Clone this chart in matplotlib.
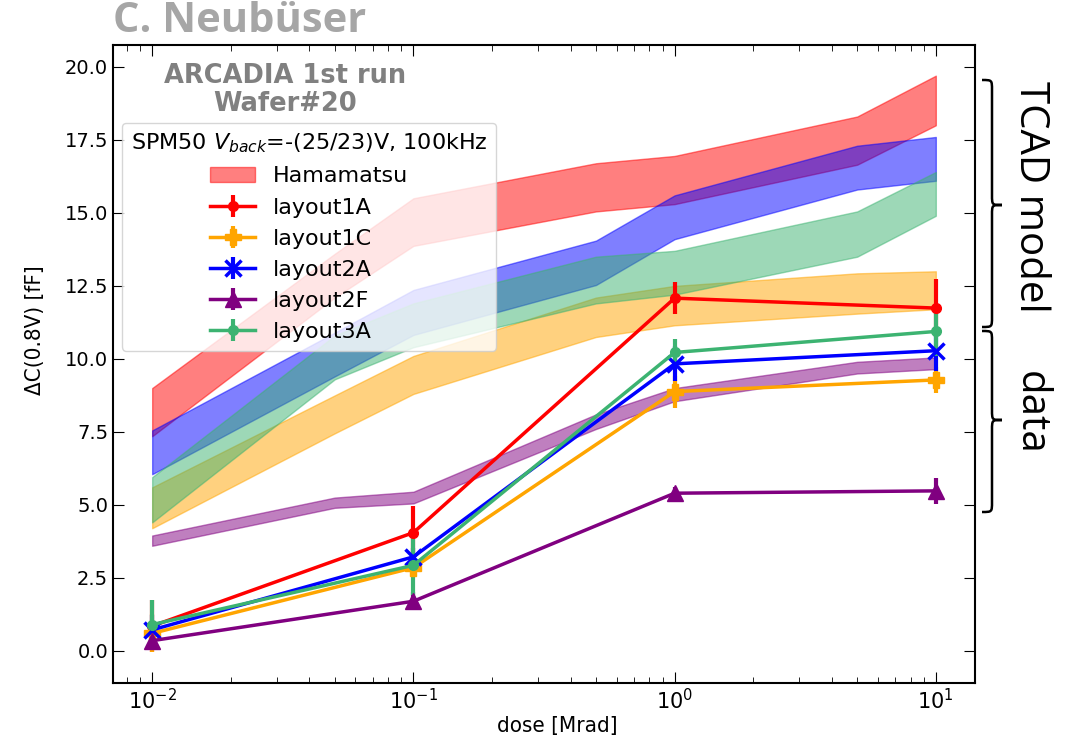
import numpy as np
import matplotlib
matplotlib.use("Agg")
import matplotlib.pyplot as plt
from matplotlib.path import Path
from matplotlib.patches import PathPatch

# TCAD simulation bands (upper / lower edge) vs. dose
dose_tcad = [0.01, 0.05, 0.1, 0.5, 1, 5, 10]
hama_hi = [9.0, 13.6, 15.5, 16.7, 16.95, 18.3, 19.7]
hama_lo = [7.35, 12.1, 13.87, 15.05, 15.3, 16.65, 18.0]
l2a_hi = [7.55, 10.9, 12.36, 14.05, 15.6, 17.3, 17.6]
l2a_lo = [6.05, 9.4, 10.82, 12.53, 14.1, 15.8, 16.1]
l3a_hi = [5.95, 10.8, 11.9, 13.5, 13.7, 15.05, 16.4]
l3a_lo = [4.4, 9.3, 10.4, 11.9, 12.2, 13.5, 14.9]
l1c_hi = [5.6, 8.75, 10.1, 12.1, 12.5, 12.93, 13.0]
l1c_lo = [4.2, 7.45, 8.8, 10.75, 11.15, 11.55, 11.7]
l2f_hi = [3.95, 5.25, 5.45, 8.1, 9.0, 9.9, 10.05]
l2f_lo = [3.6, 4.9, 5.05, 7.6, 8.55, 9.5, 9.65]

# measured points
dose_meas = [0.01, 0.1, 1, 10]
layout1A = [0.85, 4.05, 12.08, 11.74]
layout1A_err = [0.9, 0.9, 0.55, 1.0]
layout1C = [0.6, 2.85, 8.88, 9.28]
layout1C_err = [0.65, 0.2, 0.55, 0.45]
layout2A = [0.72, 3.22, 9.83, 10.28]
layout2A_err = [0.5, 0.3, 0.6, 0.7]
layout2F = [0.35, 1.7, 5.4, 5.48]
layout2F_err = [0.3, 0.3, 0.2, 0.45]
layout3A = [0.9, 2.93, 10.22, 10.94]
layout3A_err = [0.85, 1.0, 0.45, 0.85]

W, H = 1069, 744
fig = plt.figure(figsize=(W / 100, H / 100), dpi=100)
ax = fig.add_axes([113 / W, 1 - 683 / H, 862 / W, 638 / H])

ax.fill_between(dose_tcad, hama_lo, hama_hi, color="red", alpha=0.5, label="Hamamatsu")
ax.fill_between(dose_tcad, l1c_lo, l1c_hi, color="orange", alpha=0.5)
ax.fill_between(dose_tcad, l2a_lo, l2a_hi, color="blue", alpha=0.5)
ax.fill_between(dose_tcad, l2f_lo, l2f_hi, color="purple", alpha=0.5)
ax.fill_between(dose_tcad, l3a_lo, l3a_hi, color="mediumseagreen", alpha=0.5)

eb = dict(lw=2.5, elinewidth=3, capsize=0)
ax.errorbar(dose_meas, layout1A, yerr=layout1A_err, color="red", marker="o", ms=7, label="layout1A", **eb)
ax.errorbar(dose_meas, layout1C, yerr=layout1C_err, color="orange", marker="P", ms=11, label="layout1C", **eb)
ax.errorbar(dose_meas, layout2A, yerr=layout2A_err, color="blue", marker="x", ms=11, mew=2.5, label="layout2A", **eb)
ax.errorbar(dose_meas, layout2F, yerr=layout2F_err, color="purple", marker="^", ms=11, label="layout2F", **eb)
ax.errorbar(dose_meas, layout3A, yerr=layout3A_err, color="mediumseagreen", marker="o", ms=7, label="layout3A", **eb)

ax.set_xscale("log")
ax.set_ylim(-1.1, 20.75)
ax.set_yticks(np.arange(0, 20.1, 2.5))
ax.tick_params(which="both", direction="in", top=True, right=True, labelsize=14)
ax.tick_params(axis="x", labelsize=15)
ax.tick_params(which="major", length=8)
ax.tick_params(which="minor", length=4)
for s in ax.spines.values():
    s.set_linewidth(1.5)

ax.set_xlabel("dose [Mrad]", fontsize=16, fontstretch="condensed")
ax.set_ylabel("ΔC(0.8V) [fF]", fontsize=16, fontstretch="condensed")
ax.xaxis.set_label_coords(0.516, -0.052)
ax.yaxis.set_label_coords(-0.079, 0.553)

handles, labels = ax.get_legend_handles_labels()
order = [labels.index(n) for n in ["Hamamatsu", "layout1A", "layout1C", "layout2A", "layout2F", "layout3A"]]
leg = ax.legend([handles[i] for i in order], [labels[i] for i in order],
                title=r"SPM50 $V_{back}$=-(25/23)V, 100kHz",
                loc="upper left", bbox_to_anchor=(0.0104, 0.878), borderaxespad=0,
                fontsize=16, title_fontsize=16)

fig.text(285 / W, 1 - 90 / H, "ARCADIA 1st run\nWafer#20", ha="center", va="center",
         fontsize=18.5, fontweight="bold", color="#808080", linespacing=1.1)
fig.text(113 / W, 1 - 22 / H, "C. Neubüser", ha="left", va="center",
         fontsize=30, fontweight="bold", color="#a6a6a6", family="Open Sans")


# curly braces on the right-hand side
def brace(x0, yt, yb, ym, w=20):
    r = w / 2
    pts = [(x0, yt), (x0 + r, yt), (x0 + r, yt), (x0 + r, yt + r),
           (x0 + r, ym - r), (x0 + r, ym), (x0 + r, ym), (x0 + w, ym),
           (x0 + r, ym), (x0 + r, ym), (x0 + r, ym + r),
           (x0 + r, yb - r), (x0 + r, yb), (x0 + r, yb), (x0, yb)]
    codes = [Path.MOVETO, Path.CURVE4, Path.CURVE4, Path.CURVE4,
             Path.LINETO, Path.CURVE4, Path.CURVE4, Path.CURVE4,
             Path.CURVE4, Path.CURVE4, Path.CURVE4,
             Path.LINETO, Path.CURVE4, Path.CURVE4, Path.CURVE4]
    verts = [(px / W, 1 - py / H) for px, py in pts]
    fig.add_artist(PathPatch(Path(verts, codes), transform=fig.transFigure,
                             fill=False, lw=1.8, color="black"))


brace(982, 80, 327, 205)
brace(982, 331, 512, 420)
fig.text(1030 / W, 1 - 197 / H, "TCAD model", rotation=-90, ha="center", va="center",
         fontsize=29, family="Open Sans")
fig.text(1030 / W, 1 - 413 / H, "data", rotation=-90, ha="center", va="center",
         fontsize=29, family="Open Sans")

fig.savefig("out.png", dpi=100)
